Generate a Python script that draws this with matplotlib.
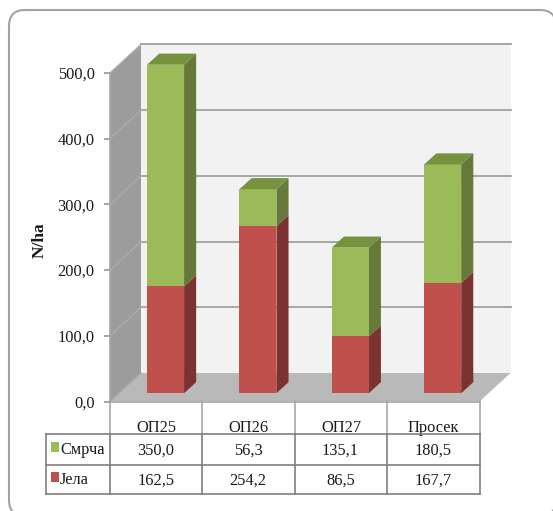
import matplotlib
matplotlib.use("Agg")
import matplotlib.pyplot as plt
from matplotlib.patches import Polygon, FancyBboxPatch, Rectangle
from matplotlib.ticker import FuncFormatter

plt.rcParams['font.family'] = ['Liberation Serif', 'DejaVu Serif']

categories = ['ОП25', 'ОП26', 'ОП27', 'Просек']
smrca = [350.0, 56.3, 135.1, 180.5]
jela = [162.5, 254.2, 86.5, 167.7]
series_names = ['Смрча', 'Јела']
y_ticks = [0, 100, 200, 300, 400, 500]
y_label = 'N/ha'

W, H = 553, 511
FS = 11.8
fig = plt.figure(figsize=(W / 100, H / 100), dpi=100, facecolor='white')

# pixel overlay for chart furniture
bg = fig.add_axes([0, 0, 1, 1], zorder=0)
bg.set_xlim(0, W); bg.set_ylim(H, 0); bg.axis('off')
bg.add_patch(FancyBboxPatch((9, 10), 547, 506, boxstyle='round,pad=0,rounding_size=16',
                            fc='white', ec='#A3A3A3', lw=1.5, clip_on=True))

# front plane of the 3-D box is the data axes
L, R, T, B = 110, 479.5, 73, 401.5
ax = fig.add_axes([L / W, 1 - B / H, (R - L) / W, (B - T) / H], zorder=1)
ax.set_xlim(0, len(categories)); ax.set_ylim(0, 500)
ax.patch.set_visible(False)
for s in ax.spines.values():
    s.set_visible(False)

ux = len(categories) / (R - L)     # data units per pixel
uy = 500 / (B - T)
DX, DY = 31, 28.5                  # box depth in pixels


def p(x, y, d=0.0):
    """project a data point at depth d (0 front .. 1 back)"""
    return (x + d * DX * ux, y + d * DY * uy)


def poly(pts, color, z):
    ax.add_patch(Polygon(pts, closed=True, fc=color, ec='none', lw=0, clip_on=False, zorder=z))


nx = len(categories)
poly([p(0, 0, 1), p(nx, 0, 1), p(nx, 500, 1), p(0, 500, 1)], '#F2F2F2', 1)
poly([p(0, 0), p(0, 0, 1), p(0, 500, 1), p(0, 500)], '#9C9C9C', 1)
poly([p(0, 0), p(nx, 0), p(nx, 0, 1), p(0, 0, 1)], '#B9B9B9', 1)

for v in y_ticks:
    if v > 0:
        ax.plot(*zip(p(0, v, 1), p(nx, v, 1)), color='#A6A6A6', lw=1.4, zorder=2, clip_on=False)
    ax.plot(*zip(p(0, v), p(0, v, 1)), color='#ABABAB', lw=1.0, zorder=2, clip_on=False)
ax.plot(*zip(p(0, 0), p(nx, 0)), color='#A6A6A6', lw=1.2, zorder=2, clip_on=False)
ax.plot(*zip(p(0, 0), p(0, 500)), color='#A6A6A6', lw=1.2, zorder=2, clip_on=False)

# bars
BW = 37 * ux
D0, D1 = 0.29, 0.68
RED = ('#C0504D', '#7B3230')
GREEN = ('#9BBB59', '#66783A')
GREEN_TOP = '#76923F'
for i in range(nx):
    x0 = i + 0.5 - BW / 2 + 0.4 * ux
    x1 = x0 + BW
    stack = [(0, jela[i], RED), (jela[i], jela[i] + smrca[i], GREEN)]
    for lo, hi, (front, side) in stack:
        lo = min(lo, 500); hi = min(hi, 500)
        poly([p(x1, lo, D0), p(x1, lo, D1), p(x1, hi, D1), p(x1, hi, D0)], side, 3)
        poly([p(x0, lo, D0), p(x1, lo, D0), p(x1, hi, D0), p(x0, hi, D0)], front, 4)
    poly([p(x0, hi, D0), p(x1, hi, D0), p(x1, hi, D1), p(x0, hi, D1)], GREEN_TOP, 5)

# axes labelling
ax.set_yticks(y_ticks)
ax.yaxis.set_major_formatter(FuncFormatter(lambda v, _: f'{v:.1f}'.replace('.', ',')))
ax.tick_params(axis='y', length=4, width=1.1, color='#8C8C8C', labelsize=FS, pad=7,
               labelcolor='#1A1A1A')
ax.set_xticks([i + 0.5 for i in range(nx)])
ax.set_xticklabels(categories, fontsize=FS, color='#1A1A1A')
ax.tick_params(axis='x', length=0, pad=13)
ax.set_ylabel(y_label, fontsize=12.5, fontweight='bold', color='#1A1A1A')
ax.yaxis.set_label_coords(-0.169, 0.49)

# data table
tb = fig.add_axes([0, 0, 1, 1], zorder=2)
tb.set_xlim(0, W); tb.set_ylim(H, 0); tb.axis('off')
cols = [L + i * (R - L) / nx for i in range(nx + 1)]
rows = [434, 465, 494]
LG = '#A8A8A8'; DG = '#7F7F7F'
for x in cols:
    tb.plot([x, x], [B, rows[0]], color=LG, lw=1.2)
    tb.plot([x, x], [rows[0], rows[-1]], color=DG, lw=1.2)
tb.plot([46, 46], [rows[0], rows[-1]], color=DG, lw=1.2)
for y in rows:
    tb.plot([46, R], [y, y], color=DG, lw=1.2)

cy = [(rows[0] + rows[1]) / 2 + 1, (rows[1] + rows[2]) / 2 + 1]
for r, (name, vals, col) in enumerate(zip(series_names, [smrca, jela], [GREEN[0], RED[0]])):
    tb.add_patch(Rectangle((51, cy[r] - 8), 7.5, 10, fc=col, ec='none'))
    tb.text(60, cy[r] - 1, name, fontsize=FS, va='center', ha='left', color='#1A1A1A')
    for i, v in enumerate(vals):
        tb.text((cols[i] + cols[i + 1]) / 2 - 0.5, cy[r], f'{v:.1f}'.replace('.', ','),
                fontsize=FS, va='center', ha='center', color='#1A1A1A')

fig.savefig('out.png', dpi=100, facecolor='white')
